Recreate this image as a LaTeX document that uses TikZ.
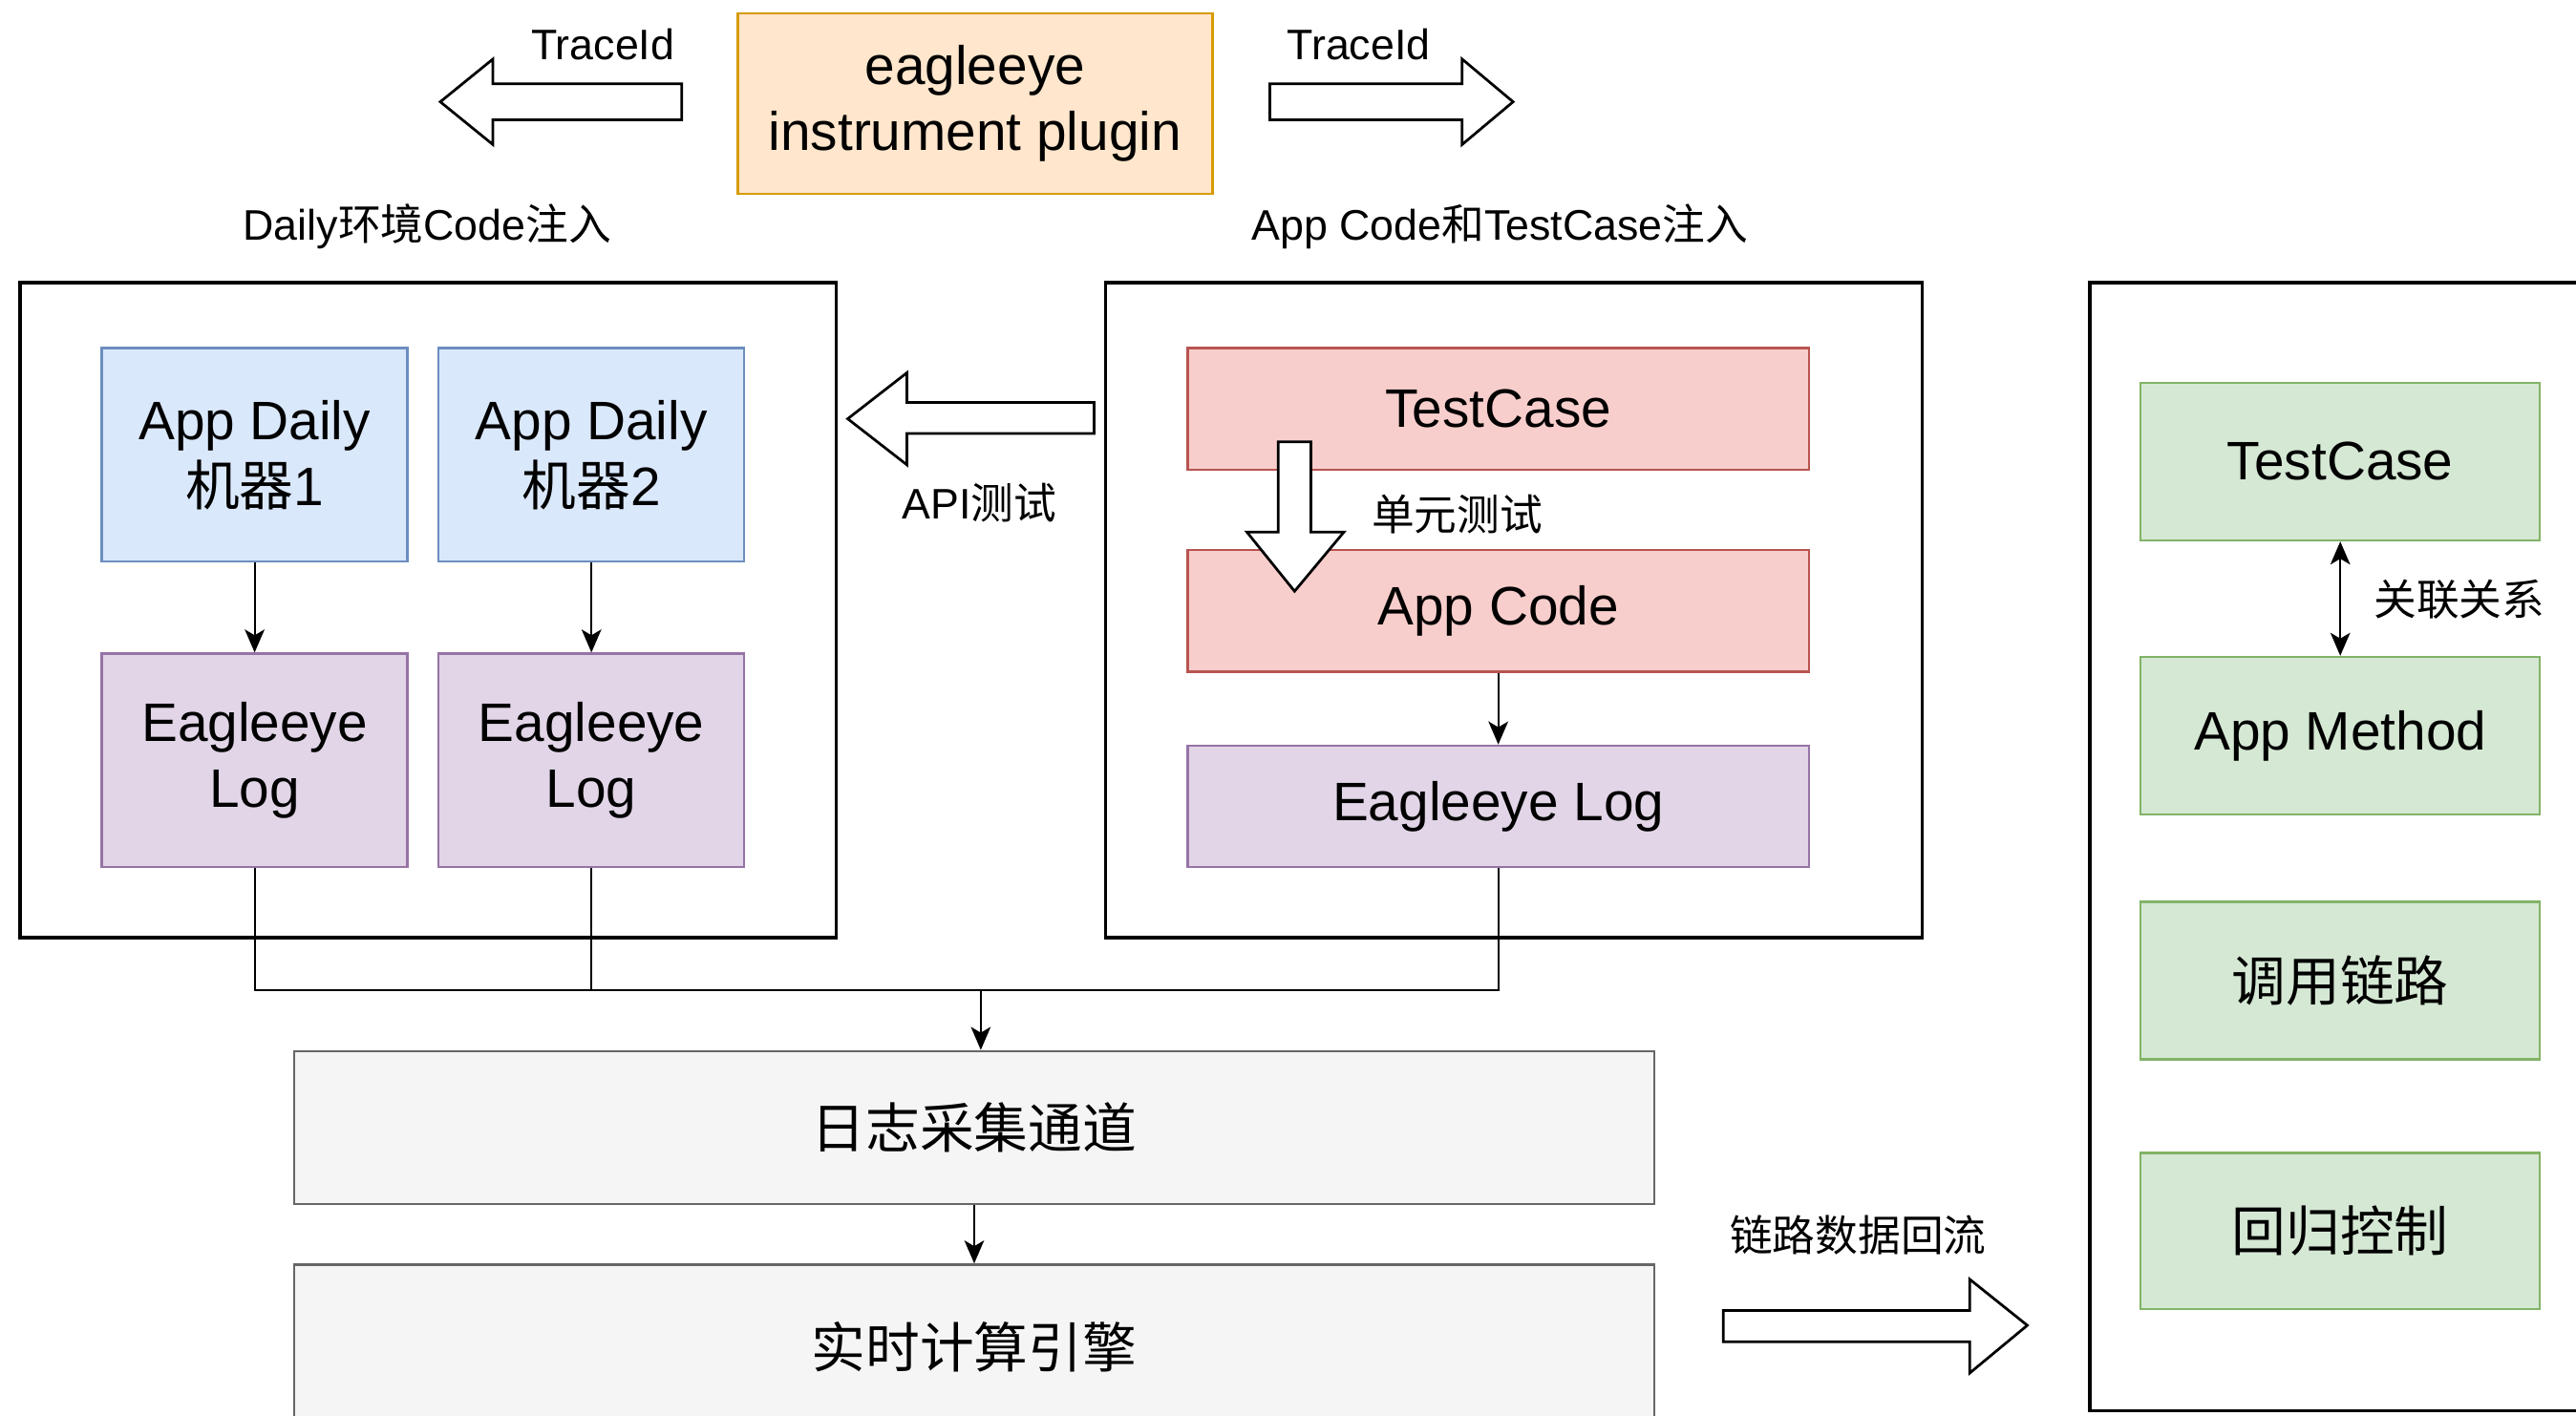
\documentclass[tikz,border=0pt]{standalone}
\usepackage{fontspec}
\setmainfont{Liberation Sans}
\newfontfamily\cjk{Noto Sans CJK SC}
\usetikzlibrary{arrows.meta}
\definecolor{orfill}{HTML}{FFE6CC}\definecolor{ordraw}{HTML}{D79B00}
\definecolor{blfill}{HTML}{DAE8FC}\definecolor{bldraw}{HTML}{6C8EBF}
\definecolor{pufill}{HTML}{E1D5E7}\definecolor{pudraw}{HTML}{9673A6}
\definecolor{refill}{HTML}{F8CECC}\definecolor{redraw}{HTML}{B85450}
\definecolor{grfill}{HTML}{D5E8D4}\definecolor{grdraw}{HTML}{82B366}
\definecolor{gyfill}{HTML}{F5F5F5}\definecolor{gydraw}{HTML}{666666}
\tikzset{
  bigtext/.style={font=\fontsize{33}{40}\selectfont},
  smalltext/.style={font=\fontsize{26}{30}\selectfont, inner sep=0pt},
  box/.style={draw, line width=1.4pt, inner sep=0pt, align=center, bigtext},
  orbox/.style={box, fill=orfill, draw=ordraw},
  blbox/.style={box, fill=blfill, draw=bldraw},
  pubox/.style={box, fill=pufill, draw=pudraw},
  rebox/.style={box, fill=refill, draw=redraw},
  grbox/.style={box, fill=grfill, draw=grdraw},
  gybox/.style={box, fill=gyfill, draw=gydraw},
  outerbox/.style={draw=black, line width=2.2pt, inner sep=0pt},
  hollow/.style={draw=black, fill=white, line width=1.6pt, line join=miter},
  conn/.style={draw=black, line width=1.2pt},
  arr/.style={conn, -{Stealth[length=14pt,width=12pt,inset=3.5pt]}},
  darr/.style={conn, {Stealth[length=14pt,width=12pt,inset=3.5pt]}-{Stealth[length=14pt,width=12pt,inset=3.5pt]}},
}
\begin{document}
\begin{tikzpicture}[x=1pt,y=-1pt]
\useasboundingbox (0,0) rectangle (1568,862);
\clip (0,0) rectangle (1568,862);
\fill[white] (0,0) rectangle (1568,862);

% top
\node[orbox, minimum width=289pt, minimum height=110pt] (plugin) at (593.5,63) {eagleeye\\instrument plugin};
\node[smalltext] (tl) at (367,27) {TraceId};
\node[smalltext] (tr) at (827,27) {TraceId};
\draw[hollow] (268,62) -- (300,36) -- (300,51) -- (415,51) -- (415,73) -- (300,73) -- (300,88) -- cycle;
\draw[hollow] (921,62) -- (890,36) -- (890,51) -- (773,51) -- (773,73) -- (890,73) -- (890,88) -- cycle;
\node[smalltext] (lblL) at (260,138) {Daily{\cjk 环境}Code{\cjk 注入}};
\node[smalltext] (lblM) at (913,138) {App Code{\cjk 和}TestCase{\cjk 注入}};

% outer boxes
\node[outerbox, minimum width=497pt, minimum height=399pt] (envL) at (260.5,371.5) {};
\node[outerbox, minimum width=497pt, minimum height=399pt] (envM) at (921.5,371.5) {};
\node[outerbox, minimum width=318pt, minimum height=687pt] (envR) at (1431,515.5) {};

% left panel
\node[blbox, minimum width=186pt, minimum height=130pt] (d1) at (155,277) {App Daily\\{\cjk 机器}1};
\node[blbox, minimum width=186pt, minimum height=130pt] (d2) at (360,277) {App Daily\\{\cjk 机器}2};
\node[pubox, minimum width=186pt, minimum height=130pt] (l1) at (155,463) {Eagleeye\\Log};
\node[pubox, minimum width=186pt, minimum height=130pt] (l2) at (360,463) {Eagleeye\\Log};
\draw[arr] (d1) -- (l1);
\draw[arr] (d2) -- (l2);

% middle panel
\node[rebox, minimum width=378pt, minimum height=74pt] (tc) at (912,249) {TestCase};
\node[rebox, minimum width=378pt, minimum height=74pt] (ac) at (912,372) {App Code};
\node[pubox, minimum width=378pt, minimum height=74pt] (l3) at (912,491) {Eagleeye Log};
\draw[arr] (ac) -- (l3);
\draw[hollow] (788,360) -- (759,324) -- (778,324) -- (778,269) -- (798,269) -- (798,324) -- (818,324) -- cycle;
\node[smalltext] (ut) at (887,313) {\cjk 单元测试};

% API arrow
\draw[hollow] (516,255) -- (552,227) -- (552,245) -- (666,245) -- (666,264) -- (552,264) -- (552,283) -- cycle;
\node[smalltext] (api) at (596,306) {API{\cjk 测试}};

% right panel
\node[grbox, minimum width=243pt, minimum height=96pt] (gt) at (1424.5,281) {TestCase};
\node[grbox, minimum width=243pt, minimum height=96pt] (gm) at (1424.5,448) {App Method};
\node[grbox, minimum width=243pt, minimum height=96pt] (gc) at (1424.5,597) {\cjk 调用链路};
\node[grbox, minimum width=243pt, minimum height=95pt] (gr) at (1424.5,749.5) {\cjk 回归控制};
\draw[darr] (gt) -- (gm);
\node[smalltext] (rel) at (1497,365) {\cjk 关联关系};

% bottom
\node[gybox, minimum width=828pt, minimum height=93pt] (g1) at (593,686.5) {\cjk 日志采集通道};
\node[gybox, minimum width=828pt, minimum height=100pt] (g2) at (593,820) {\cjk 实时计算引擎};
\coordinate (j) at (597,603);
\draw[conn] (l1.south) -- (l1.south |- j) -- (l3.south |- j) -- (l3.south);
\draw[conn] (l2.south) -- (l2.south |- j);
\draw[arr] (j) -- (j |- g1.north);
\draw[arr] (g1) -- (g2);

\draw[hollow] (1234,807) -- (1199,779) -- (1199,798) -- (1049,798) -- (1049,817) -- (1199,817) -- (1199,836) -- cycle;
\node[smalltext] (flow) at (1131,752) {\cjk 链路数据回流};
\end{tikzpicture}
\end{document}
